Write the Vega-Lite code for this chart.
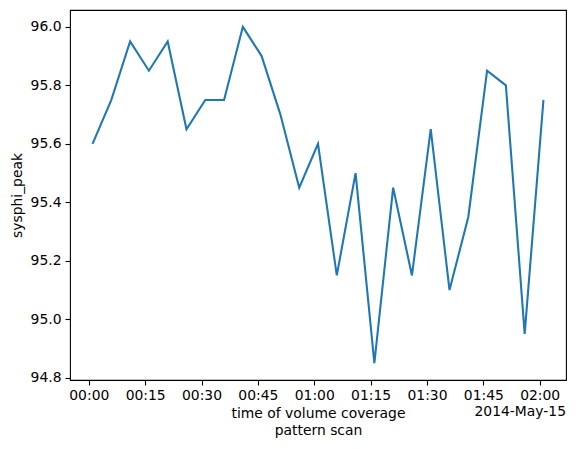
{
  "$schema": "https://vega.github.io/schema/vega-lite/v6.json",
  "width": 496,
  "height": 370,
  "autosize": {"type": "none"},
  "padding": {"left": 70, "top": 10, "right": 10, "bottom": 69},
  "background": "white",
  "config": {
    "view": {"stroke": "black", "strokeWidth": 1.1},
    "axis": {
      "domain": false,
      "grid": false,
      "tickColor": "black",
      "tickSize": 5,
      "tickWidth": 1.1,
      "labelColor": "black",
      "labelFont": "DejaVu Sans",
      "labelFontSize": 13.9,
      "titleFont": "DejaVu Sans",
      "titleFontSize": 13.9,
      "titleFontWeight": "normal",
      "titleColor": "black"
    }
  },
  "datasets": {
    "scan": [
      {"time": "2014-05-15T00:01:00Z", "sysphi_peak": 95.6},
      {"time": "2014-05-15T00:06:00Z", "sysphi_peak": 95.75},
      {"time": "2014-05-15T00:11:00Z", "sysphi_peak": 95.95},
      {"time": "2014-05-15T00:16:00Z", "sysphi_peak": 95.85},
      {"time": "2014-05-15T00:21:00Z", "sysphi_peak": 95.95},
      {"time": "2014-05-15T00:26:00Z", "sysphi_peak": 95.65},
      {"time": "2014-05-15T00:31:00Z", "sysphi_peak": 95.75},
      {"time": "2014-05-15T00:36:00Z", "sysphi_peak": 95.75},
      {"time": "2014-05-15T00:41:00Z", "sysphi_peak": 96.0},
      {"time": "2014-05-15T00:46:00Z", "sysphi_peak": 95.9},
      {"time": "2014-05-15T00:51:00Z", "sysphi_peak": 95.7},
      {"time": "2014-05-15T00:56:00Z", "sysphi_peak": 95.45},
      {"time": "2014-05-15T01:01:00Z", "sysphi_peak": 95.6},
      {"time": "2014-05-15T01:06:00Z", "sysphi_peak": 95.15},
      {"time": "2014-05-15T01:11:00Z", "sysphi_peak": 95.5},
      {"time": "2014-05-15T01:16:00Z", "sysphi_peak": 94.85},
      {"time": "2014-05-15T01:21:00Z", "sysphi_peak": 95.45},
      {"time": "2014-05-15T01:26:00Z", "sysphi_peak": 95.15},
      {"time": "2014-05-15T01:31:00Z", "sysphi_peak": 95.65},
      {"time": "2014-05-15T01:36:00Z", "sysphi_peak": 95.1},
      {"time": "2014-05-15T01:41:00Z", "sysphi_peak": 95.35},
      {"time": "2014-05-15T01:46:00Z", "sysphi_peak": 95.85},
      {"time": "2014-05-15T01:51:00Z", "sysphi_peak": 95.8},
      {"time": "2014-05-15T01:56:00Z", "sysphi_peak": 94.95},
      {"time": "2014-05-15T02:01:00Z", "sysphi_peak": 95.75}
    ],
    "offset": [{"label": "2014-May-15"}]
  },
  "layer": [
    {
      "data": {"name": "scan"},
      "mark": {"type": "line", "color": "#1f77b4", "strokeWidth": 2.08, "clip": true},
      "encoding": {
        "x": {
          "field": "time",
          "type": "temporal",
          "scale": {
            "type": "utc",
            "domain": [
              {"year": 2014, "month": 5, "date": 14, "hours": 23, "minutes": 55, "utc": true},
              {"year": 2014, "month": 5, "date": 15, "hours": 2, "minutes": 7, "utc": true}
            ]
          },
          "axis": {
            "title": ["time of volume coverage", "pattern scan"],
            "titleLineHeight": 16.5,
            "titlePadding": 5,
            "labelPadding": 3,
            "labelExpr": "utcFormat(datum.value, '%H:%M')",
            "values": [
              {"year": 2014, "month": 5, "date": 15, "hours": 0, "minutes": 0, "utc": true},
              {"year": 2014, "month": 5, "date": 15, "hours": 0, "minutes": 15, "utc": true},
              {"year": 2014, "month": 5, "date": 15, "hours": 0, "minutes": 30, "utc": true},
              {"year": 2014, "month": 5, "date": 15, "hours": 0, "minutes": 45, "utc": true},
              {"year": 2014, "month": 5, "date": 15, "hours": 1, "minutes": 0, "utc": true},
              {"year": 2014, "month": 5, "date": 15, "hours": 1, "minutes": 15, "utc": true},
              {"year": 2014, "month": 5, "date": 15, "hours": 1, "minutes": 30, "utc": true},
              {"year": 2014, "month": 5, "date": 15, "hours": 1, "minutes": 45, "utc": true},
              {"year": 2014, "month": 5, "date": 15, "hours": 2, "minutes": 0, "utc": true}
            ]
          }
        },
        "y": {
          "field": "sysphi_peak",
          "type": "quantitative",
          "scale": {"domain": [94.7925, 96.0575], "nice": false, "zero": false},
          "axis": {
            "title": "sysphi_peak",
            "titlePadding": 6,
            "labelPadding": 4,
            "format": ".1f",
            "values": [94.8, 95.0, 95.2, 95.4, 95.6, 95.8, 96.0]
          }
        }
      }
    },
    {
      "data": {"name": "offset"},
      "mark": {
        "type": "text",
        "align": "right",
        "baseline": "middle",
        "dy": 32,
        "font": "DejaVu Sans",
        "fontSize": 13.9,
        "color": "black",
        "clip": false
      },
      "encoding": {
        "x": {"datum": {"year": 2014, "month": 5, "date": 15, "hours": 2, "minutes": 7, "utc": true}, "type": "temporal"},
        "y": {"datum": 94.7925, "type": "quantitative"},
        "text": {"field": "label"}
      }
    }
  ]
}
